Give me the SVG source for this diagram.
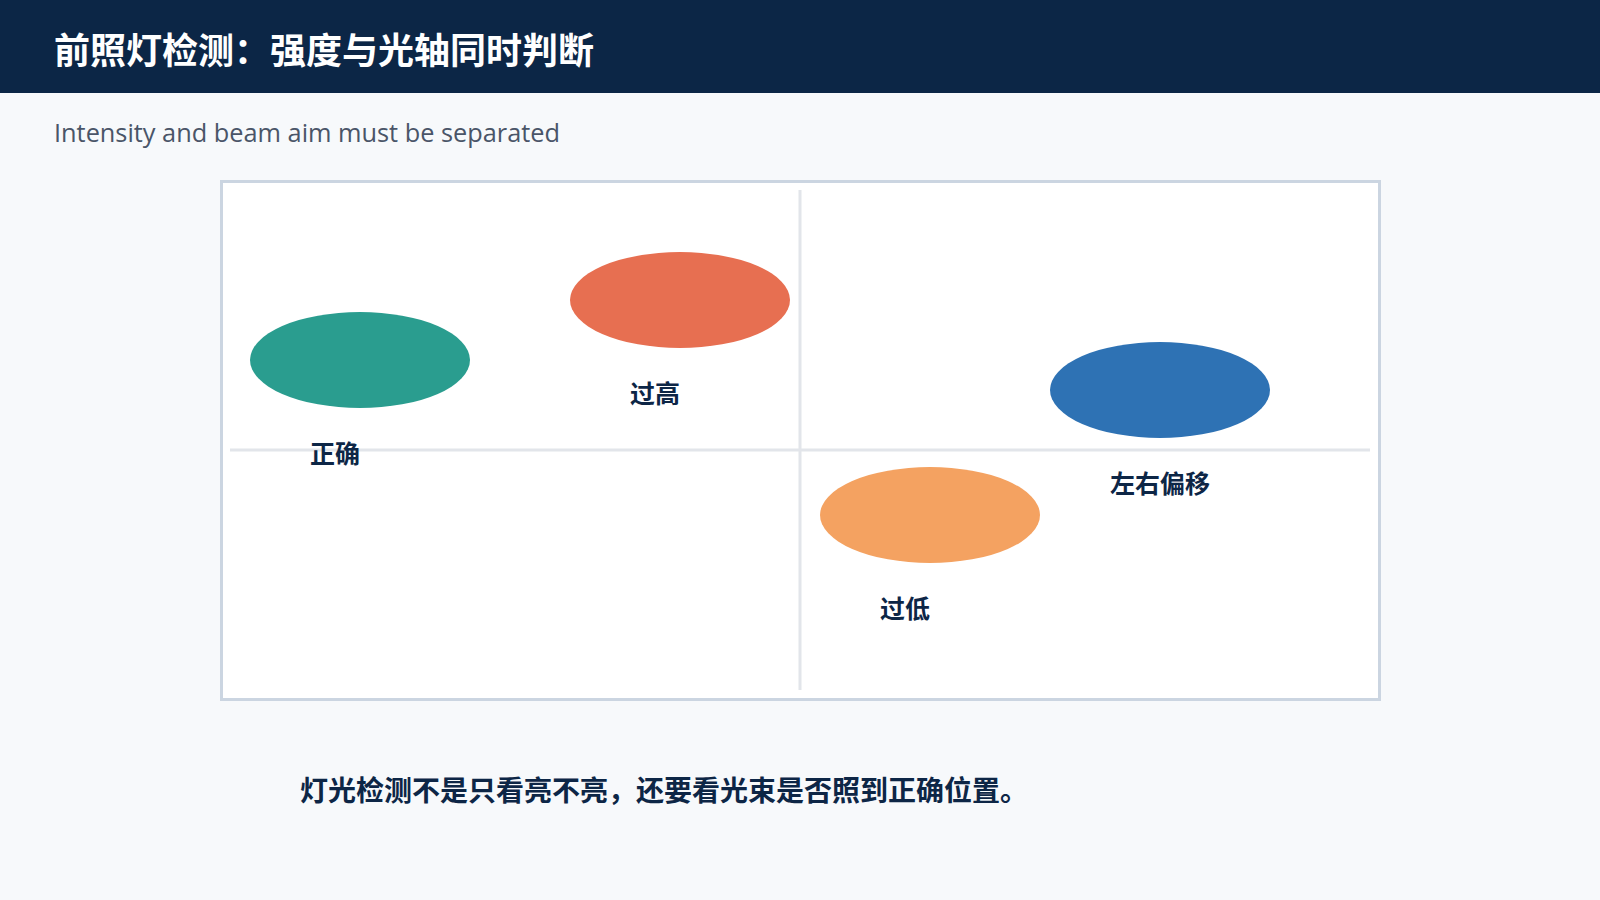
<svg xmlns="http://www.w3.org/2000/svg" width="1600" height="900" viewBox="0 0 1600 900">
<style>
.cjk{font-family:"Noto Sans CJK SC","Noto Sans",sans-serif;font-weight:700}
.lbl{font-size:25px;fill:#0d2646}
.grid{stroke:#e2e5ea;stroke-width:3}
</style>
<rect x="0" y="0" width="1600" height="900" fill="#f7f9fb"/>
<g id="header">
<rect x="0" y="0" width="1600" height="93" fill="#0c2646"/>
<text x="54" y="64" class="cjk" font-size="36" fill="#ffffff">前照灯检测：强度与光轴同时判断</text>
</g>
<text x="54" y="142" font-family="'Open Sans','Noto Sans',sans-serif" font-size="25.5" fill="#4a5568" textLength="506" lengthAdjust="spacingAndGlyphs">Intensity and beam aim must be separated</text>
<g id="plot">
<rect x="221.5" y="181.5" width="1158" height="518" fill="#ffffff" stroke="#cbd5e1" stroke-width="3"/>
</g>
<g id="connectors">
<line class="grid" x1="800" y1="190" x2="800" y2="690"/>
<line class="grid" x1="230" y1="450" x2="1370" y2="450"/>
</g>
<g id="node-correct">
<ellipse cx="360" cy="360" rx="110" ry="48" fill="#2a9d8f"/>
<text x="310" y="463" class="cjk lbl">正确</text>
</g>
<g id="node-high">
<ellipse cx="680" cy="300" rx="110" ry="48" fill="#e76f51"/>
<text x="630" y="403" class="cjk lbl">过高</text>
</g>
<g id="node-shift">
<ellipse cx="1160" cy="390" rx="110" ry="48" fill="#2e72b4"/>
<text x="1110" y="493" class="cjk lbl">左右偏移</text>
</g>
<g id="node-low">
<ellipse cx="930" cy="515" rx="110" ry="48" fill="#f4a261"/>
<text x="880" y="618" class="cjk lbl">过低</text>
</g>
<text x="300" y="801" class="cjk" font-size="28" fill="#0d2646">灯光检测不是只看亮不亮，还要看光束是否照到正确位置。</text>
</svg>
